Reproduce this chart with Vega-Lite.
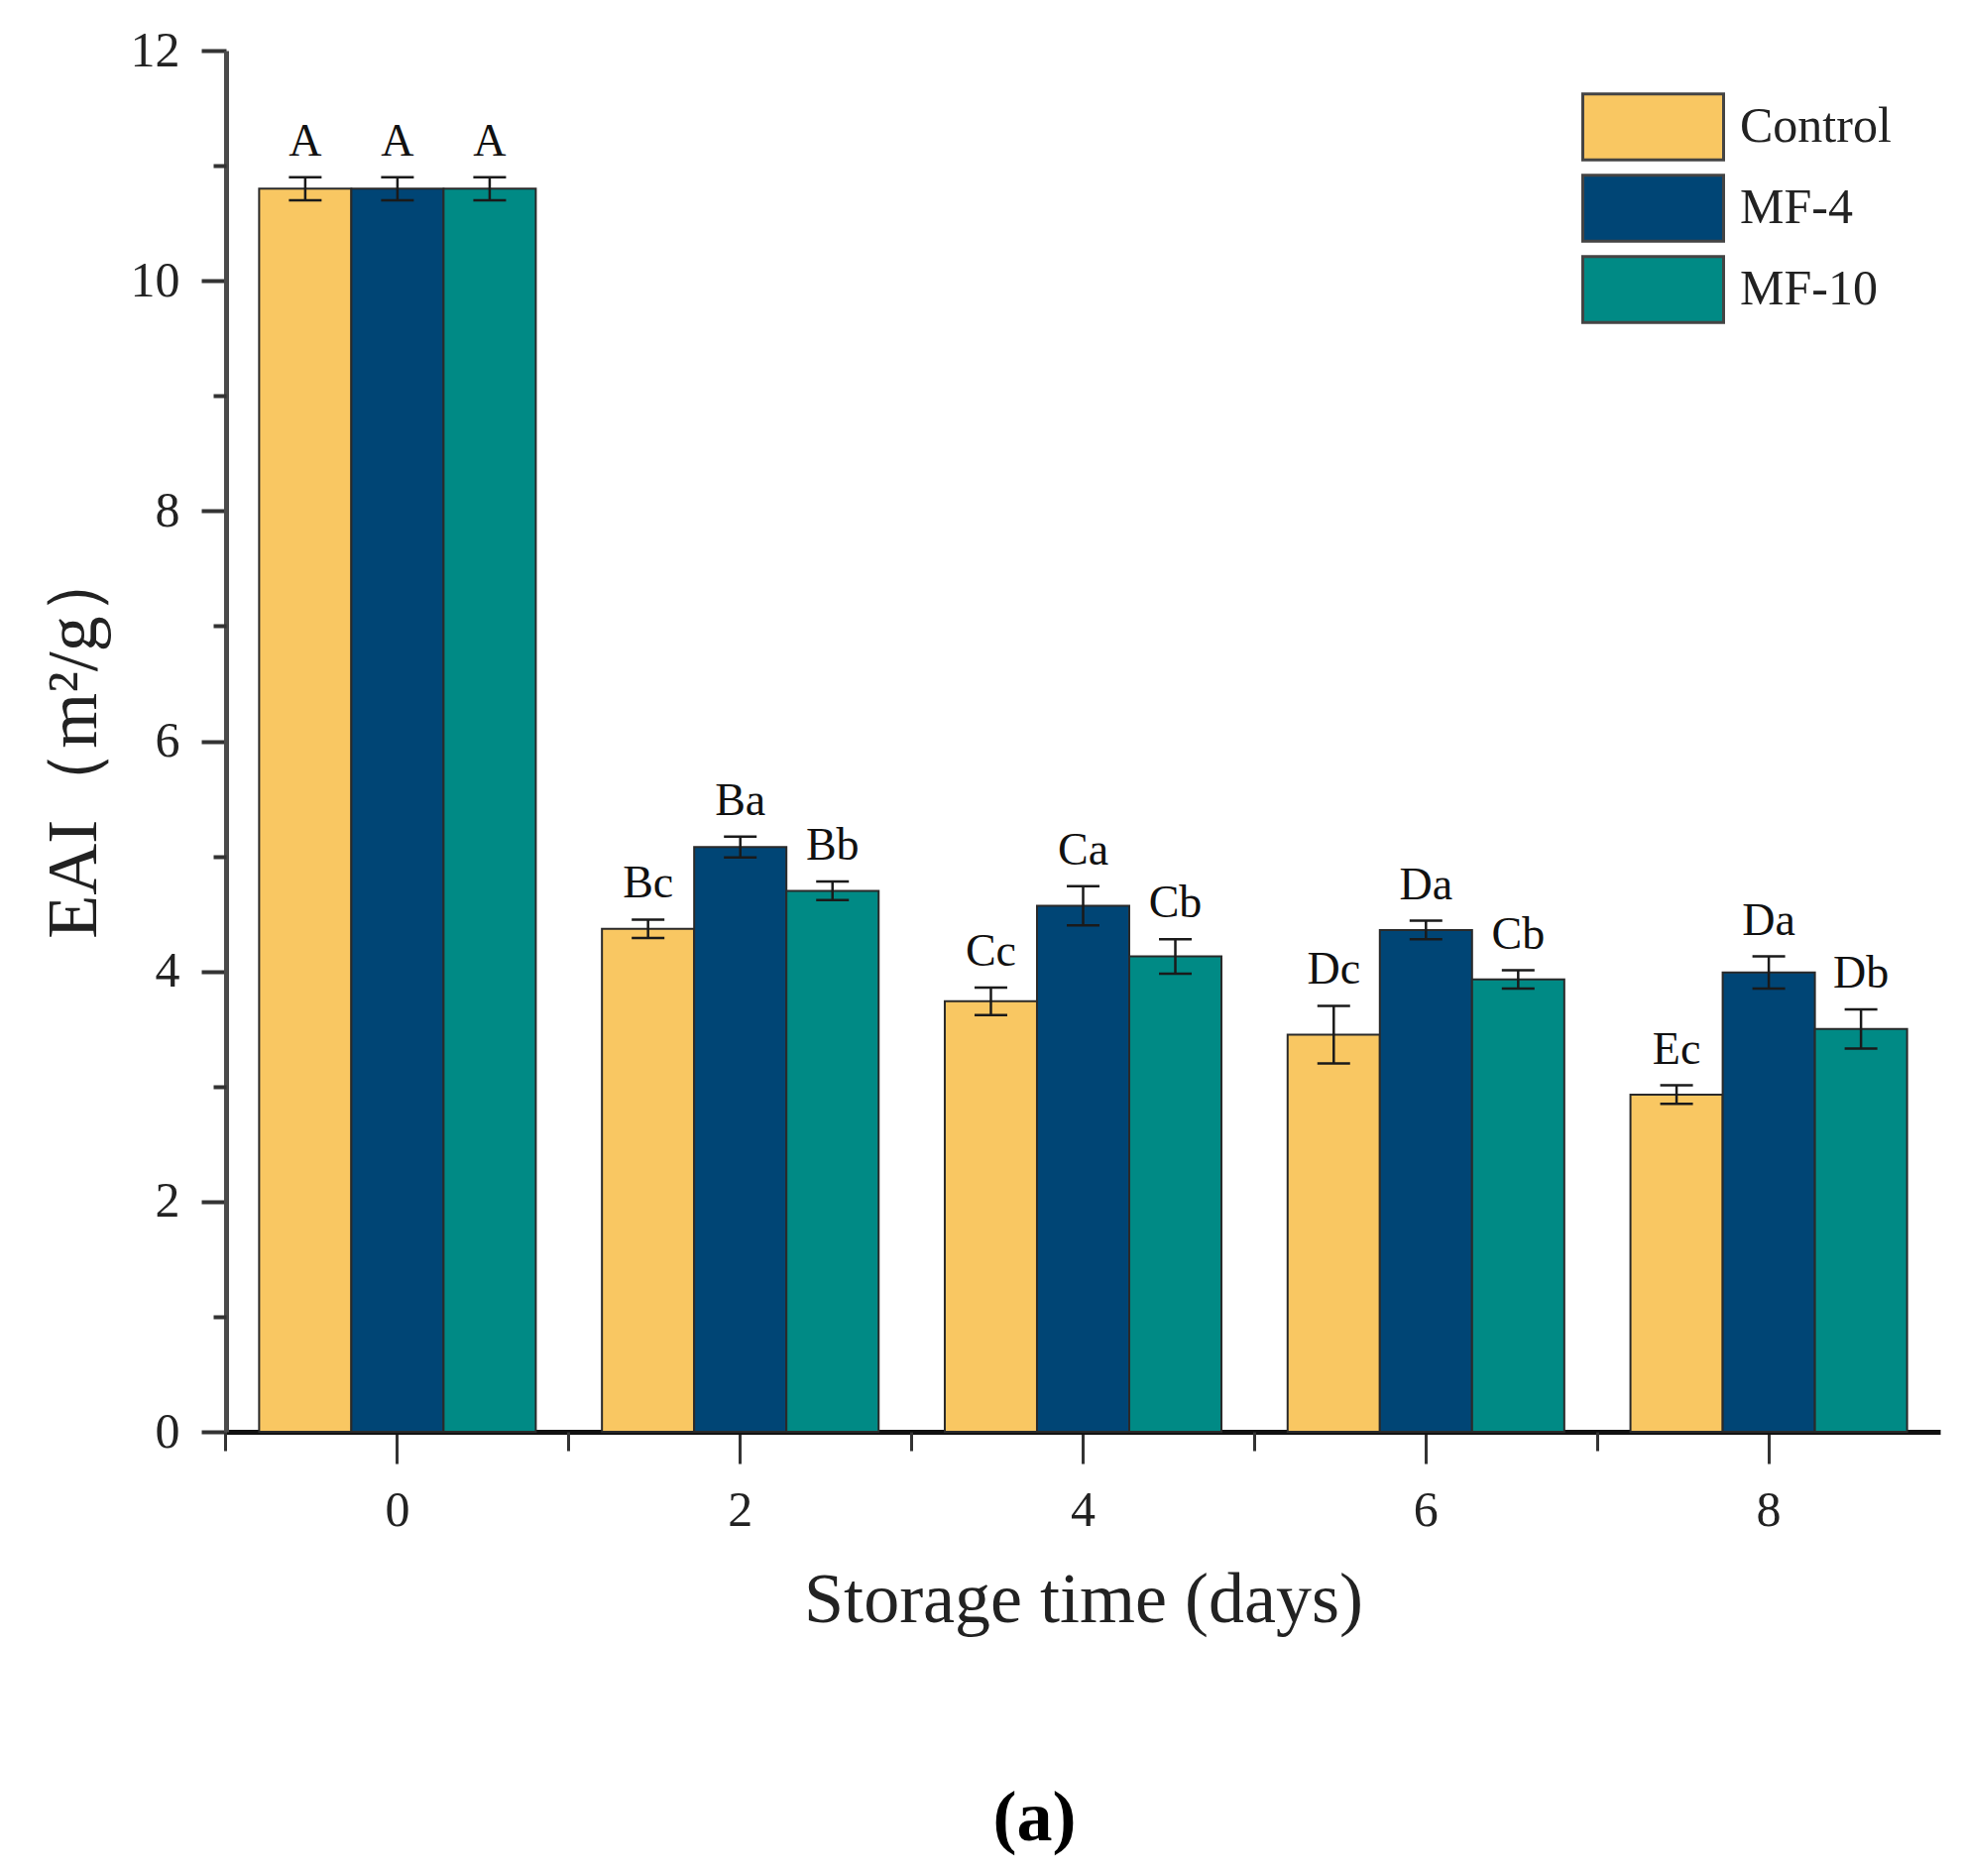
{
  "$schema": "https://vega.github.io/schema/vega-lite/v6.json",
  "width": 1729,
  "height": 1393,
  "autosize": {"type": "none"},
  "padding": {"left": 228, "top": 51, "right": 23, "bottom": 448},
  "background": "white",
  "config": {"font": "Liberation Serif", "view": {"stroke": null}},
  "title": {"text": "(a)", "orient": "bottom", "fontSize": 72, "fontWeight": "bold", "font": "Liberation Serif", "offset": 150, "dx": -49, "color": "#000"},
  "data": {"values": [
    {"day": "0", "treatment": "Control", "eai": 10.8, "lo": 10.7, "hi": 10.9, "lbl": "A"},
    {"day": "0", "treatment": "MF-4", "eai": 10.8, "lo": 10.7, "hi": 10.9, "lbl": "A"},
    {"day": "0", "treatment": "MF-10", "eai": 10.8, "lo": 10.7, "hi": 10.9, "lbl": "A"},
    {"day": "2", "treatment": "Control", "eai": 4.37, "lo": 4.29, "hi": 4.45, "lbl": "Bc"},
    {"day": "2", "treatment": "MF-4", "eai": 5.08, "lo": 4.99, "hi": 5.17, "lbl": "Ba"},
    {"day": "2", "treatment": "MF-10", "eai": 4.70, "lo": 4.62, "hi": 4.78, "lbl": "Bb"},
    {"day": "4", "treatment": "Control", "eai": 3.74, "lo": 3.62, "hi": 3.86, "lbl": "Cc"},
    {"day": "4", "treatment": "MF-4", "eai": 4.57, "lo": 4.40, "hi": 4.74, "lbl": "Ca"},
    {"day": "4", "treatment": "MF-10", "eai": 4.13, "lo": 3.98, "hi": 4.28, "lbl": "Cb"},
    {"day": "6", "treatment": "Control", "eai": 3.45, "lo": 3.20, "hi": 3.70, "lbl": "Dc"},
    {"day": "6", "treatment": "MF-4", "eai": 4.36, "lo": 4.28, "hi": 4.44, "lbl": "Da"},
    {"day": "6", "treatment": "MF-10", "eai": 3.93, "lo": 3.85, "hi": 4.01, "lbl": "Cb"},
    {"day": "8", "treatment": "Control", "eai": 2.93, "lo": 2.85, "hi": 3.01, "lbl": "Ec"},
    {"day": "8", "treatment": "MF-4", "eai": 3.99, "lo": 3.85, "hi": 4.13, "lbl": "Da"},
    {"day": "8", "treatment": "MF-10", "eai": 3.50, "lo": 3.33, "hi": 3.67, "lbl": "Db"}
  ]},
  "layer": [
    {
      "mark": {"type": "bar", "stroke": "#2a2a2a", "strokeWidth": 2},
      "encoding": {
        "x": {"field": "day", "type": "nominal", "sort": ["0", "2", "4", "6", "8"],
              "scale": {"paddingInner": 0.193, "paddingOuter": 0.0965},
              "axis": {"orient": "bottom", "title": "Storage time (days)", "labelAngle": 0, "labelFontSize": 50, "labelColor": "#222", "labelPadding": 22,
                       "tickSize": 32, "tickWidth": 3, "tickColor": "#333", "domainColor": "#111", "domainWidth": 5,
                       "titleFontSize": 72, "titleFontWeight": "normal", "titleColor": "#222", "titlePadding": 30}},
        "xOffset": {"field": "treatment", "type": "nominal", "sort": ["Control", "MF-4", "MF-10"], "scale": {"paddingInner": 0, "paddingOuter": 0}},
        "y": {"field": "eai", "type": "quantitative", "scale": {"domain": [0, 12], "nice": false},
              "axis": {"orient": "left", "title": "EAI（m²/g）", "values": [0, 2, 4, 6, 8, 10, 12], "grid": false, "labelFontSize": 50, "labelColor": "#222", "labelPadding": 22,
                       "tickSize": 25, "tickWidth": 4, "tickColor": "#333", "domainColor": "#4a4a4a", "domainWidth": 5,
                       "titleFontSize": 72, "titleFontWeight": "normal", "titleColor": "#222", "titlePadding": 20}},
        "color": {"field": "treatment", "type": "nominal",
                  "scale": {"domain": ["Control", "MF-4", "MF-10"], "range": ["#F9C762", "#004575", "#008A85"]},
                  "legend": {"title": null, "orient": "none", "legendX": 1367, "legendY": 41,
                             "symbolType": "M-1,-0.47H1V0.47H-1Z", "symbolSize": 20164, "symbolStrokeColor": "#444", "symbolStrokeWidth": 3,
                             "clipHeight": 72, "symbolOpacity": 1, "labelFontSize": 50, "labelLimit": 0, "labelColor": "#222", "labelOffset": 15, "rowPadding": 10, "padding": 0}}
      }
    },
    {
      "mark": {"type": "rule", "color": "#1a1a1a", "strokeWidth": 2.5},
      "encoding": {
        "x": {"field": "day", "type": "nominal", "sort": ["0", "2", "4", "6", "8"],
              "axis": {"orient": "bottom", "title": null, "labels": false, "domain": false, "bandPosition": -0.12, "tickSize": 19, "tickWidth": 3, "tickColor": "#333"}},
        "xOffset": {"field": "treatment", "type": "nominal", "sort": ["Control", "MF-4", "MF-10"]},
        "y": {"field": "lo", "type": "quantitative",
              "axis": {"orient": "left", "title": null, "labels": false, "domain": false, "grid": false, "values": [1, 3, 5, 7, 9, 11], "tickSize": 13, "tickWidth": 4, "tickColor": "#333"}},
        "y2": {"field": "hi"}
      }
    },
    {
      "mark": {"type": "tick", "orient": "horizontal", "size": 33, "thickness": 2.5, "color": "#1a1a1a", "opacity": 1},
      "encoding": {
        "x": {"field": "day", "type": "nominal", "sort": ["0", "2", "4", "6", "8"], "axis": null},
        "xOffset": {"field": "treatment", "type": "nominal", "sort": ["Control", "MF-4", "MF-10"]},
        "y": {"field": "lo", "type": "quantitative", "axis": null}
      }
    },
    {
      "mark": {"type": "tick", "orient": "horizontal", "size": 33, "thickness": 2.5, "color": "#1a1a1a", "opacity": 1},
      "encoding": {
        "x": {"field": "day", "type": "nominal", "sort": ["0", "2", "4", "6", "8"], "axis": null},
        "xOffset": {"field": "treatment", "type": "nominal", "sort": ["Control", "MF-4", "MF-10"]},
        "y": {"field": "hi", "type": "quantitative", "axis": null}
      }
    },
    {
      "mark": {"type": "text", "baseline": "alphabetic", "dy": -22, "fontSize": 46, "color": "#111"},
      "encoding": {
        "x": {"field": "day", "type": "nominal", "sort": ["0", "2", "4", "6", "8"], "axis": null},
        "xOffset": {"field": "treatment", "type": "nominal", "sort": ["Control", "MF-4", "MF-10"]},
        "y": {"field": "hi", "type": "quantitative", "axis": null},
        "text": {"field": "lbl"}
      }
    }
  ],
  "resolve": {"axis": {"x": "independent", "y": "independent"}}
}
